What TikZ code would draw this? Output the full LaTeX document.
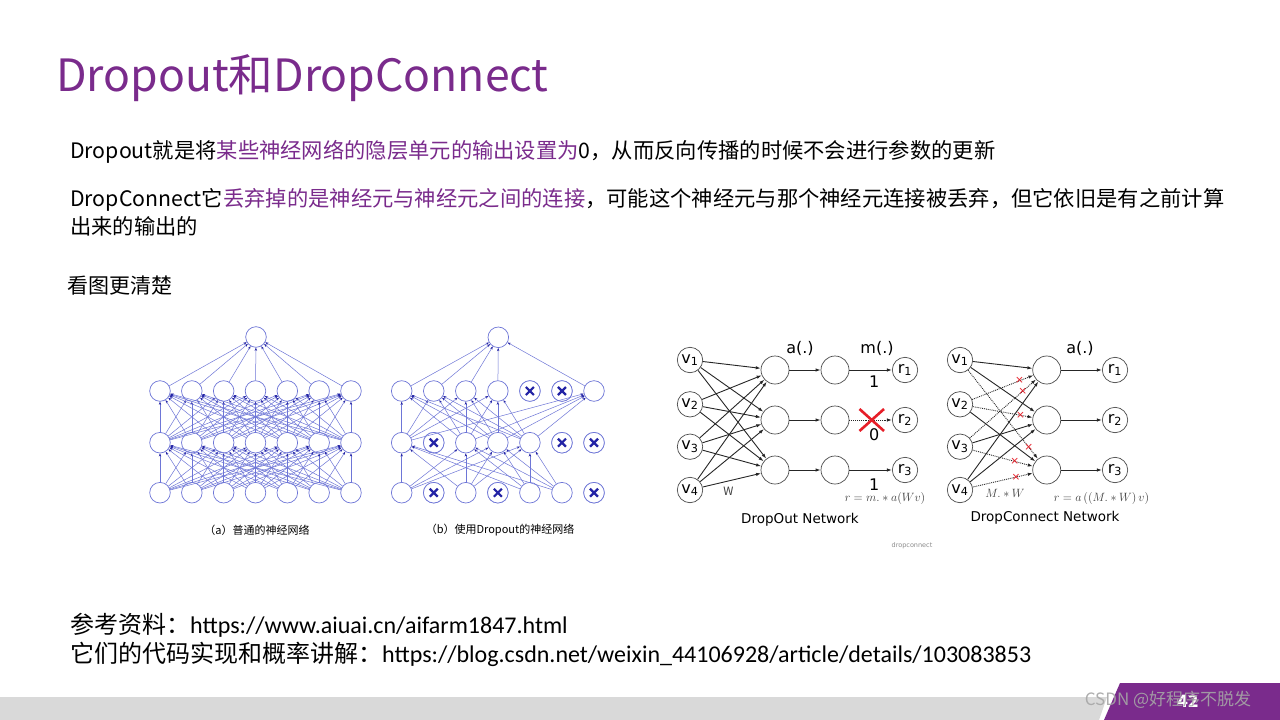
\documentclass[tikz,border=0pt]{standalone}
\usepackage{fontspec}
\setmainfont{Noto Sans CJK SC}
\newfontfamily\cjk{Noto Sans CJK SC}
\newfontfamily\dvs{DejaVu Sans}
\newfontfamily\carl{Carlito}
\usetikzlibrary{arrows.meta,calc}
\definecolor{ppl}{RGB}{122,43,140}
\definecolor{nnblue}{RGB}{110,118,215}
\definecolor{nndark}{RGB}{35,35,165}
\definecolor{barg}{RGB}{217,217,217}
\definecolor{xred}{RGB}{230,30,40}
\begin{document}
\begin{tikzpicture}[x=1pt,y=-1pt,
  nn/.style={circle,draw=nnblue,line width=0.7pt,minimum size=20.6pt,inner sep=0pt,fill=white},
  nnedge/.style={nnblue,line width=0.5pt,-{Stealth[length=3.2pt,width=2.4pt,color=nndark]}},
  xout/.style={path picture={
     \draw[nndark,line width=2.2pt] ($(path picture bounding box.center)+(-4,-4)$) -- ($(path picture bounding box.center)+(4,4)$);
     \draw[nndark,line width=2.2pt] ($(path picture bounding box.center)+(-4,4)$) -- ($(path picture bounding box.center)+(4,-4)$);}},
  dn/.style={circle,draw=black!70,line width=0.7pt,inner sep=0pt,fill=white,font=\dvs\fontsize{16}{16}\selectfont},
  vn/.style={dn,minimum size=25.4pt},
  hn/.style={dn,minimum size=28pt},
  dedge/.style={black!85,line width=0.9pt,-{Latex[length=5pt,width=3.4pt]}},
  dotedge/.style={dedge,densely dotted},
  rx/.style={text=xred,font=\dvs\fontsize{10.5}{10}\selectfont,inner sep=0pt},
  body/.style={anchor=west,inner sep=0pt,font=\fontsize{21.3}{26}\selectfont},
  dlab/.style={inner sep=0pt,font=\dvs\fontsize{16}{16}\selectfont},
  mlab/.style={inner sep=0pt,text=black!75,font=\fontsize{11.5}{12}\selectfont},
  captext/.style={inner sep=0pt,font=\fontsize{11}{13}\selectfont}
]
\useasboundingbox (0,0) rectangle (1280,720);
\fill[white] (0,0) rectangle (1280,720);

% title and text
\node[anchor=west,inner sep=0pt,text=ppl,font=\fontsize{44.5}{50}\selectfont] (title) at (56,78) {Dropout和DropConnect};
\node[body] (l1) at (70,152) {Dropout就是将\textcolor{ppl}{某些神经网络的隐层单元的输出设置为}0，从而反向传播的时候不会进行参数的更新};
\node[body] (l2) at (70,200) {DropConnect它\textcolor{ppl}{丢弃掉的是神经元与神经元之间的连接}，可能这个神经元与那个神经元连接被丢弃，但它依旧是有之前计算};
\node[body] (l3) at (70,226) {出来的输出的};
\node[body,font=\fontsize{21}{26}\selectfont] (l4) at (67,286) {看图更清楚};
\node[anchor=west,inner sep=0pt,font=\fontsize{24}{28}\selectfont] (ref1) at (70,625) {参考资料：{\carl https://www.aiuai.cn/aifarm1847.html}};
\node[anchor=west,inner sep=0pt,font=\fontsize{24}{28}\selectfont] (ref2) at (70,654) {它们的代码实现和概率讲解：{\carl https://blog.csdn.net/weixin\_44106928/article/details/103083853}};

% ---------- network (a)
\node[nn] (aT) at (256,337) {};
\foreach \i in {0,...,6} {
  \node[nn] (a1-\i) at ({160+31.83*\i},492.7) {};
  \node[nn] (a2-\i) at ({160+31.83*\i},442.7) {};
  \node[nn] (a3-\i) at ({160+31.83*\i},391) {};
}
\foreach \i in {0,...,6} {
  \foreach \j in {0,...,6} {
    \draw[nnedge] (a1-\i) -- (a2-\j);
    \draw[nnedge] (a2-\i) -- (a3-\j);
  }
  \draw[nnedge] (a3-\i) -- (aT);
}
\node[captext] (capa) at (257,530) {（a）普通的神经网络};

% ---------- network (b)
\node[nn] (bT) at (498.3,337.3) {};
\foreach \i in {0,...,6} {
  \node[nn] (b1-\i) at ({401.7+32.05*\i},492.7) {};
  \node[nn] (b2-\i) at ({401.7+32.05*\i},442.7) {};
  \node[nn] (b3-\i) at ({401.7+32.05*\i},391) {};
}
\foreach \n in {b1-1,b1-3,b1-6,b2-1,b2-5,b2-6,b3-4,b3-5} { \node[nn,xout] at (\n) {}; }
\foreach \i in {0,2,4,5} { \foreach \j in {0,2,3,4} { \draw[nnedge] (b1-\i) -- (b2-\j); } }
\foreach \i in {0,2,3,4} { \foreach \j in {0,1,2,3,6} { \draw[nnedge] (b2-\i) -- (b3-\j); } }
\foreach \i in {0,1,2,3,6} { \draw[nnedge] (b3-\i) -- (bT); }
\node[captext] (capb) at (500,530) {（b）使用Dropout的神经网络};

% ---------- DropOut network
\foreach \k/\y in {1/360,2/404.3,3/446.7,4/490} { \node[vn] (ov\k) at (690,\y) {v\textsubscript{\k}}; }
\foreach \k/\y in {1/370,2/420,3/470} {
  \node[hn] (oh\k) at (775,\y) {};
  \node[hn] (om\k) at (835,\y) {};
  \node[vn] (or\k) at (905,\y) {r\textsubscript{\k}};
}
\foreach \i in {1,...,4} { \foreach \j in {1,2,3} { \draw[dedge] (ov\i) -- (oh\j); } }
\foreach \j in {1,2,3} { \draw[dedge] (oh\j) -- (om\j); }
\draw[dedge] (om1) -- (or1);
\draw[dotedge] (om2) -- (or2);
\draw[dedge] (om3) -- (or3);
\draw[xred,line width=2.6pt] (859.5,409) -- (884,431) (859.5,431) -- (884,409);
\node[dlab] (oa) at (800,348) {a(.)};
\node[dlab] (om) at (877,348) {m(.)};
\node[dlab] (o1) at (874.3,382) {1};
\node[dlab] (o0) at (874.3,434.5) {0};
\node[dlab] (o3) at (874.3,484.5) {1};
\node[mlab] (oW) at (728.5,491.5) {W};
\node[mlab] (oeq) at (885,498.5) {$r=m.*a(Wv)$};
\node[inner sep=0pt,font=\dvs\fontsize{13.5}{14}\selectfont] (oname) at (800,520) {DropOut Network};
\node[inner sep=0pt,text=black!45,font=\dvs\fontsize{6.5}{7}\selectfont] (odc) at (912,546) {dropconnect};

% ---------- DropConnect network
\foreach \k/\y in {1/360,2/404.3,3/446.7,4/490} { \node[vn] (cv\k) at (960,\y) {v\textsubscript{\k}}; }
\foreach \k/\y in {1/370,2/420,3/470} {
  \node[hn] (ch\k) at (1046.7,\y) {};
  \node[vn] (cr\k) at (1115,\y) {r\textsubscript{\k}};
  \draw[dedge] (ch\k) -- (cr\k);
}
\draw[dedge] (cv1) -- (ch1);
\draw[dedge] (cv1) -- (ch2);
\draw[dedge] (cv2) -- (ch3);
\draw[dedge] (cv3) -- (ch2);
\draw[dedge] (cv4) -- (ch1);
\draw[dedge] (cv4) -- (ch2);
\draw[dotedge] (cv1) -- (ch3) node[rx,pos=0.87] {×};
\draw[dotedge] (cv2) -- (ch1) node[rx,pos=0.775] {×};
\draw[dotedge] (cv2) -- (ch2) node[rx,pos=0.80] {×};
\draw[dotedge] (cv3) -- (ch1) node[rx,pos=0.80] {×};
\draw[dotedge] (cv3) -- (ch3) node[rx,pos=0.70] {×};
\draw[dotedge] (cv4) -- (ch3) node[rx,pos=0.72] {×};
\node[dlab] (ca) at (1080,348) {a(.)};
\node[mlab] (cMW) at (1005,493.5) {$M.*W$};
\node[mlab] (ceq) at (1101.5,498.5) {$r=a\left((M.*W)\,v\right)$};
\node[inner sep=0pt,font=\dvs\fontsize{13.5}{14}\selectfont] (cname) at (1045,518) {DropConnect Network};

% ---------- bottom bar
\fill[barg] (0,697) -- (1107,697) -- (1099,720) -- (0,720) -- cycle;
\fill[ppl] (1120,683) -- (1280,683) -- (1280,720) -- (1104,720) -- cycle;
\node[inner sep=0pt,text=white,font=\bfseries\fontsize{17}{18}\selectfont] (pg) at (1188,701) {42};
\node[inner sep=0pt,text=black!35,font=\fontsize{17}{18}\selectfont,opacity=0.9] (wm) at (1168,700) {CSDN @好程序不脱发};
\end{tikzpicture}
\end{document}
